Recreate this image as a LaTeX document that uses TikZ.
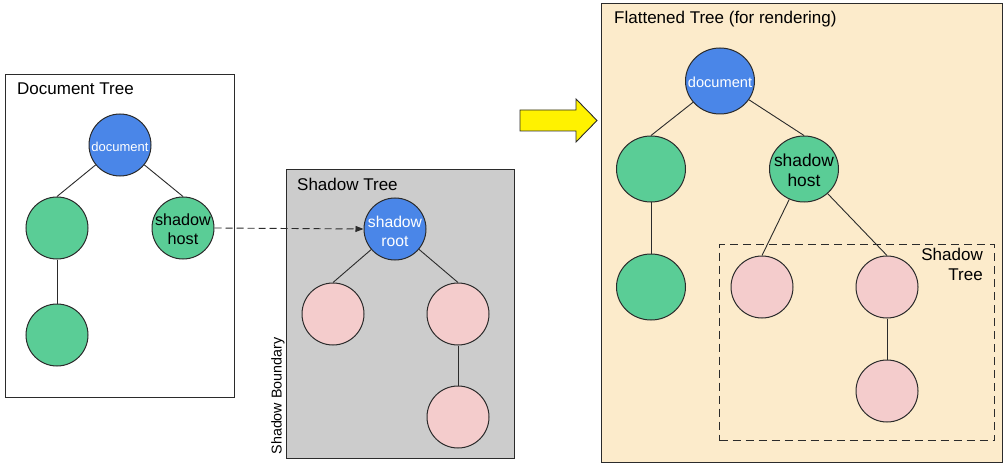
\documentclass[tikz,border=0pt]{standalone}
\usepackage{fontspec}
\setmainfont{Liberation Sans}
\usetikzlibrary{shapes.geometric,arrows.meta}
\definecolor{nblue}{HTML}{4A86E8}
\definecolor{ngreen}{HTML}{5ACD96}
\definecolor{npink}{HTML}{F4CCCC}
\definecolor{sgray}{HTML}{CCCCCC}
\definecolor{beige}{HTML}{FCEBCB}
\definecolor{edgec}{HTML}{2B2B2B}
\newcommand{\ctext}[1]{\makebox[0pt]{\smash{\raisebox{\dimexpr-3.5pt-0.25em\relax}{\begin{tabular}{@{}c@{}}#1\end{tabular}}}}}
\begin{document}
\begin{tikzpicture}[x=1pt,y=-1pt,
  panel/.style={draw=edgec,line width=1pt},
  ttl/.style={anchor=base west,inner sep=0pt,font=\fontsize{17}{20}\selectfont},
  circ/.style={circle,draw=edgec,line width=1pt,minimum size=62pt,inner sep=0pt,align=center},
  bigc/.style={ellipse,draw=edgec,line width=1pt,minimum width=69pt,minimum height=66pt,inner sep=0pt,align=center},
  blue/.style={fill=nblue,text=white},
  green/.style={fill=ngreen},
  pink/.style={fill=npink},
  link/.style={draw=edgec,line width=0.9pt}
]
\useasboundingbox (0,0) rectangle (1006,465);
% panels
\node[panel,fill=white,minimum width=229pt,minimum height=323pt,anchor=north west,inner sep=0pt] (docbox) at (5,74) {};
\node[panel,fill=sgray,minimum width=228pt,minimum height=289pt,anchor=north west,inner sep=0pt] (shbox) at (286,169) {};
\node[panel,fill=beige,minimum width=401pt,minimum height=459pt,anchor=north west,inner sep=0pt] (flbox) at (601,3) {};
\node[draw=edgec,line width=1.1pt,dash pattern=on 8pt off 5pt,minimum width=275pt,minimum height=196pt,anchor=north west,inner sep=0pt] (dbox) at (719,244) {};

% titles
\node[ttl] (t1) at (17,95) {Document Tree};
\node[ttl] (t2) at (297,190) {Shadow Tree};
\node[ttl] (t3) at (614,24) {Flattened Tree (for rendering)};
\node[anchor=north east,inner sep=0pt,align=right,font=\fontsize{17}{20}\selectfont] (t4) at (983,248) {Shadow\\Tree};
\node[rotate=90,inner sep=0pt,font=\fontsize{14.3}{16}\selectfont] (sb) at (278,396) {Shadow Boundary};

% document tree
\node[circ,blue,font=\fontsize{13}{15}\selectfont] (d1) at (120,145) {\ctext{document}};
\node[circ,green] (a1) at (57,228) {};
\node[circ,green,font=\fontsize{16.2}{19}\selectfont] (h1) at (183,228) {\ctext{shadow\\host}};
\node[circ,green] (a2) at (57,335) {};
\draw[link] (d1) -- (a1.north);
\draw[link] (d1) -- (h1.north);
\draw[link] (a1) -- (a2);

% shadow tree
\node[circ,blue,font=\fontsize{15.7}{19}\selectfont] (r1) at (395,229) {\ctext{shadow\\root}};
\node[circ,pink] (p1) at (333,314) {};
\node[circ,pink] (p2) at (458,314) {};
\node[circ,pink] (p3) at (458,417) {};
\draw[link] (r1) -- (p1.north);
\draw[link] (r1) -- (p2.north);
\draw[link] (p2) -- (p3);

% dashed arrow
\draw[link,dash pattern=on 7pt off 4pt,-{Triangle[length=8pt,width=6pt]}] (h1.east) -- (r1.west);

% yellow arrow
\fill[yellow,draw=edgec,line width=0.9pt] (520,110) -- (576,110) -- (576,99) -- (597,120.5) -- (576,142) -- (576,131) -- (520,131) -- cycle;

% flattened tree
\node[bigc,blue,font=\fontsize{14.6}{17}\selectfont] (d2) at (720,81) {\ctext{document}};
\node[bigc,green] (b1) at (651,169) {};
\node[bigc,green,font=\fontsize{17.4}{20}\selectfont] (h2) at (804,169) {\ctext{shadow\\host}};
\node[bigc,green] (b2) at (651,287) {};
\node[circ,pink] (q1) at (762,287) {};
\node[circ,pink] (q2) at (887,287) {};
\node[circ,pink] (q3) at (887,391) {};
\draw[link] (d2) -- (b1.north);
\draw[link] (d2) -- (h2.north);
\draw[link] (b1) -- (b2);
\draw[link] (h2) -- (q1.north);
\draw[link] (h2) -- (q2.north);
\draw[link] (q2) -- (q3);
\end{tikzpicture}
\end{document}
